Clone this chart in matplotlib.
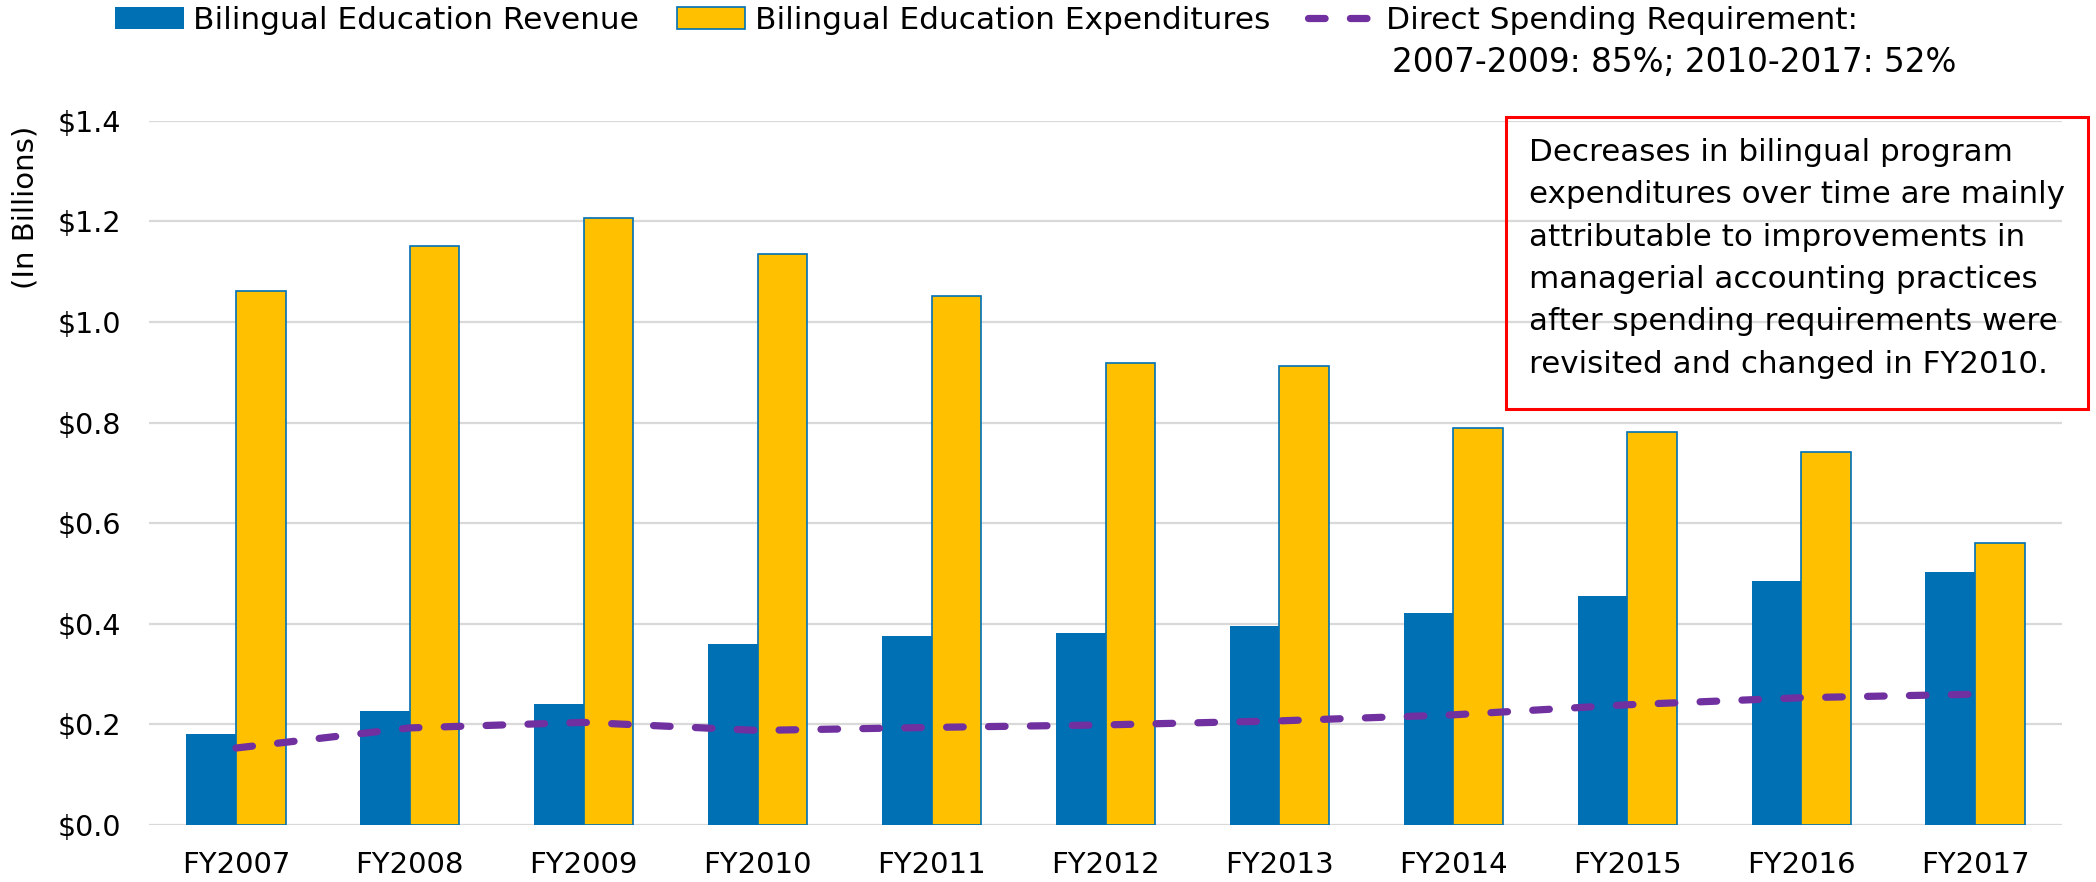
#!/usr/bin/env python3

import matplotlib

matplotlib.use("Agg")
import matplotlib.pyplot as plt
from matplotlib.patches import Rectangle

years = ["FY2007", "FY2008", "FY2009", "FY2010", "FY2011", "FY2012",
         "FY2013", "FY2014", "FY2015", "FY2016", "FY2017"]
revenue = [0.181, 0.226, 0.241, 0.360, 0.376, 0.381, 0.395, 0.421, 0.455, 0.486, 0.502]
expenditures = [1.061, 1.151, 1.207, 1.135, 1.051, 0.918, 0.913, 0.789, 0.781, 0.741, 0.561]
requirement = [0.153, 0.193, 0.204, 0.188, 0.194, 0.199, 0.207, 0.219, 0.239, 0.253, 0.260]
y_ticks = [0.0, 0.2, 0.4, 0.6, 0.8, 1.0, 1.2, 1.4]

note = ("Decreases in bilingual program\n"
        "expenditures over time are mainly\n"
        "attributable to improvements in\n"
        "managerial accounting practices\n"
        "after spending requirements were\n"
        "revisited and changed in FY2010.")

BLUE = "#0070B5"
YELLOW = "#FFC000"
PURPLE = "#7030A0"
GRID = "#D9D9D9"

W, H = 2096, 882


def main() -> int:
    plt.rcParams["font.family"] = ["DejaVu Sans"]
    fig = plt.figure(figsize=(W / 100, H / 100), dpi=100)
    ax = fig.add_axes([149 / W, 1 - 825 / H, (2062 - 149) / W, (825 - 120.7) / H])

    x = list(range(len(years)))
    bw = 0.285
    b1 = ax.bar([i - bw / 2 for i in x], revenue, width=bw, color=BLUE, zorder=2,
                label="Bilingual Education Revenue")
    b2 = ax.bar([i + bw / 2 for i in x], expenditures, width=bw, color=YELLOW,
                edgecolor=BLUE, linewidth=1.2, zorder=2,
                label="Bilingual Education Expenditures")
    (ln,) = ax.plot(x, requirement, color=PURPLE, lw=5.2, dashes=(2.3, 3.5),
                    dash_capstyle="round", zorder=3,
                    label="Direct Spending Requirement:")

    ax.set_xlim(-0.5, len(years) - 0.5)
    ax.set_ylim(0, 1.4)
    ax.set_yticks(y_ticks)
    ax.set_yticklabels([f"${v:.1f}" for v in y_ticks], fontsize=20.5)
    ax.set_xticks(x)
    ax.set_xticklabels(years, fontsize=21)
    ax.tick_params(axis="y", length=0, pad=20)
    ax.tick_params(axis="x", length=0, pad=19)
    ax.grid(axis="y", color=GRID, lw=1.6, zorder=0)
    ax.set_axisbelow(True)
    for s in ax.spines.values():
        s.set_visible(False)

    fig.text(26 / W, 1 - 207 / H, "(In Billions)", rotation=90, ha="center",
             va="center", fontsize=21)

    fig.legend(handles=[b1, b2, ln], loc="upper left", bbox_to_anchor=(115 / W, 0.993),
               ncol=3, frameon=False, fontsize=22.5, handlelength=2.2,
               handletextpad=0.3, columnspacing=1.2, borderpad=0, borderaxespad=0)
    fig.text(1392 / W, 1 - 72 / H, "2007-2009: 85%; 2010-2017: 52%", fontsize=23.5,
             va="baseline")

    fig.add_artist(Rectangle((1506 / W, 1 - 409 / H), (2088 - 1506) / W, (409 - 117) / H,
                             transform=fig.transFigure, fill=False, edgecolor="#FF0000",
                             lw=2.2))
    fig.text(1529 / W, 1 - 138 / H, note, fontsize=22.3, va="top", ha="left",
             linespacing=1.58)

    fig.savefig("out.png", dpi=100)
    plt.close(fig)
    return 0


if __name__ == "__main__":
    raise SystemExit(main())
